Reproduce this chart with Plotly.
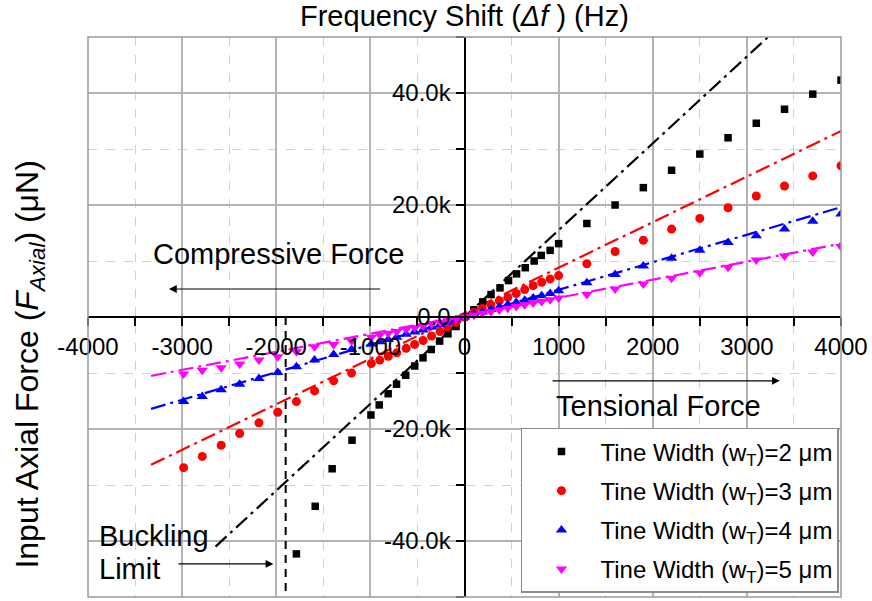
import plotly.graph_objects as go

# ---------------- data ----------------
# Tine width 2 um (black squares)
w2_x = [-1786, -1586, -1406, -1195, -994, -906, -811, -722, -624, -529, -441, -353, -264, -176, -90,
        0, 100, 194, 282, 377, 468, 553, 645, 740, 815, 910, 1000,
        1300, 1600, 1900, 2200, 2500, 2800, 3100, 3400, 3700, 4000]
w2_y = [-42300, -33800, -27100, -22000, -17500, -15700, -13700, -12000, -10400, -8750, -7300, -5800, -4300, -3000, -1700,
        0, 1300, 2700, 4000, 5200, 6500, 7700, 8800, 10000, 11000, 11900, 13100,
        16700, 20000, 23100, 26200, 29100, 32000, 34600, 37100, 39800, 42300]

# Tine width 3 um (red circles)
w3_x = [-2984, -2786, -2585, -2389, -2184, -1984, -1786, -1593, -1390, -1200,
        -990, -900, -810, -720, -620, -530, -440, -350, -260, -180, -90,
        0, 100, 190, 280, 370, 460, 550, 640, 730, 820, 910, 1000,
        1300, 1600, 1900, 2200, 2500, 2800, 3100, 3400, 3700, 4000]
w3_y = [-26900, -24900, -22900, -20800, -18900, -17000, -15100, -13200, -11400, -10000,
        -8300, -7700, -7000, -6400, -5600, -4900, -4200, -3400, -2600, -1800, -1000,
        0, 800, 1500, 2200, 2900, 3500, 4200, 4900, 5600, 6200, 6800, 7400,
        9500, 11700, 13700, 15700, 17600, 19500, 21600, 23400, 25200, 27000]

# Tine width 4 um (blue up-triangles)
w4_x = w3_x
w4_y = [-15100, -14200, -13000, -12000, -11000, -9900, -8900, -7700, -6700, -5800,
        -4800, -4400, -4000, -3600, -3100, -2700, -2300, -1800, -1400, -950, -500,
        0, 470, 900, 1350, 1800, 2200, 2600, 3000, 3400, 3800, 4200, 4700,
        6100, 7600, 9100, 10500, 11900, 13300, 14500, 15700, 17100, 18400]

# Tine width 5 um (magenta down-triangles)
w5_x = w3_x
w5_y = [-10200, -9500, -9050, -8400, -7700, -7100, -6200, -5300, -4900, -4300,
        -3600, -3200, -2900, -2600, -2200, -1900, -1600, -1250, -950, -650, -350,
        0, 340, 650, 950, 1250, 1560, 1870, 2180, 2480, 2790, 3100, 3400,
        4000, 5000, 5900, 6900, 7900, 8900, 10200, 10900, 11600, 12600]

# fitted (dash-dot) lines: end points
fit2_x = [-2645, 3225]
fit2_y = [-41000, 50000]
fit3_x = [-3330, 4000]
fit3_y = [-26400, 33200]
fit4_x = [-3330, 4000]
fit4_y = [-16400, 19600]
fit5_x = [-3330, 4000]
fit5_y = [-10500, 13100]

buckling_x = [-1900, -1900]
buckling_y = [0, -50000]

x_ticks = [-4000, -3000, -2000, -1000, 0, 1000, 2000, 3000, 4000]
x_ticktext = ["-4000", "-3000", "-2000", "-1000", "0", "1000", "2000", "3000", "4000"]
y_ticks = [-40000, -20000, 0, 20000, 40000]
y_ticktext = ["-40.0k", "-20.0k", "0.0", "20.0k", "40.0k"]

names = ["Tine Width (w<sub>T</sub>)=2 μm", "Tine Width (w<sub>T</sub>)=3 μm",
         "Tine Width (w<sub>T</sub>)=4 μm", "Tine Width (w<sub>T</sub>)=5 μm"]

# ---------------- figure ----------------
FONT = "Liberation Sans, Arial, sans-serif"
DASHDOT = "15px,5px,3px,5px"

fig = go.Figure()

fits = [(fit2_x, fit2_y, "#000000"), (fit3_x, fit3_y, "#ff0000"),
        (fit4_x, fit4_y, "#0000ff"), (fit5_x, fit5_y, "#ff00ff")]
for fx, fy, c in fits:
    fig.add_trace(go.Scatter(x=fx, y=fy, mode="lines", showlegend=False, hoverinfo="skip",
                             line=dict(color=c, width=2.2, dash=DASHDOT)))

fig.add_trace(go.Scatter(x=buckling_x, y=buckling_y, mode="lines", showlegend=False, hoverinfo="skip",
                         line=dict(color="#000000", width=2, dash="8px,6px")))

series = [(w2_x, w2_y, "#000000", "square", 7.5),
          (w3_x, w3_y, "#ff0000", "circle", 9),
          (w4_x, w4_y, "#0000ff", "triangle-up", 10),
          (w5_x, w5_y, "#ff00ff", "triangle-down", 10)]
for i, (sx, sy, c, sym, sz) in enumerate(series):
    fig.add_trace(go.Scatter(x=sx, y=sy, mode="markers", name=names[i], legendgroup=f"g{i}",
                             marker=dict(color=c, symbol=sym, size=sz, line=dict(width=0))))

grid_major = "#b4b4b4"
grid_minor = "#d2d2d2"

fig.update_layout(
    width=872, height=601,
    margin=dict(l=88, r=27, t=37, b=4),
    paper_bgcolor="white", plot_bgcolor="white",
    font=dict(family=FONT, color="black"),
    xaxis=dict(range=[-4000, 4000], anchor="free", position=0.5,
               tickvals=x_ticks, ticktext=x_ticktext,
               showline=True, linecolor="black", linewidth=2,
               ticks="outside", ticklen=8, tickwidth=2, tickcolor="black",
               showgrid=True, gridcolor=grid_major, gridwidth=1.5, zeroline=False,
               tickfont=dict(size=24, family=FONT, color="black"),
               minor=dict(dtick=500, tick0=0, ticks="outside", ticklen=8, tickwidth=2, tickcolor="black",
                          showgrid=True, gridcolor=grid_minor, griddash="dash", gridwidth=1)),
    yaxis=dict(range=[-50000, 50000], anchor="free", position=0.5,
               tickvals=y_ticks, ticktext=y_ticktext,
               showline=True, linecolor="black", linewidth=2,
               ticks="outside", ticklen=8, tickwidth=2, tickcolor="black",
               showgrid=True, gridcolor=grid_major, gridwidth=1.5, zeroline=False,
               tickfont=dict(size=24, family=FONT, color="black"),
               minor=dict(dtick=10000, tick0=0, ticks="outside", ticklen=8, tickwidth=2, tickcolor="black",
                          showgrid=True, gridcolor=grid_minor, griddash="dash", gridwidth=1)),
    legend=dict(x=0.575, y=0.302, xanchor="left", yanchor="top",
                bgcolor="white", bordercolor="#8c8c8c", borderwidth=1.5,
                font=dict(size=24, family=FONT, color="black"),
                itemwidth=68, tracegroupgap=5),
    shapes=[dict(type="rect", xref="paper", yref="paper", x0=0, y0=0, x1=1, y1=1,
                 line=dict(color="#9a9a9a", width=1.5), layer="above")],
)

ann = [
    dict(text="Frequency Shift (<i>Δf</i> ) (Hz)", xref="paper", yref="paper", x=0.5, y=1,
         xanchor="center", yanchor="bottom", yshift=3, showarrow=False, font=dict(size=29)),
    dict(text="Input Axial Force (<i>F</i><sub><i>Axial</i></sub>) (μN)", xref="paper", yref="paper",
         x=0, y=0.415, xshift=-58, textangle=-90, xanchor="center", yanchor="middle",
         showarrow=False, font=dict(size=32)),
    dict(text="Compressive Force", x=-1977, y=11250, showarrow=False, font=dict(size=29)),
    dict(text="Tensional Force", x=2060, y=-15900, showarrow=False, font=dict(size=29)),
    dict(text="Buckling", x=-3900, y=-39100, xanchor="left", showarrow=False, font=dict(size=29)),
    dict(text="Limit", x=-3900, y=-45000, xanchor="left", showarrow=False, font=dict(size=29)),
    dict(x=-3140, y=5000, ax=-880, ay=5000, xref="x", yref="y", axref="x", ayref="y", text="",
         showarrow=True, arrowhead=2, arrowsize=1.3, arrowwidth=1.2, arrowcolor="black"),
    dict(x=3350, y=-11400, ax=920, ay=-11400, xref="x", yref="y", axref="x", ayref="y", text="",
         showarrow=True, arrowhead=2, arrowsize=1.3, arrowwidth=1.2, arrowcolor="black"),
    dict(x=-2030, y=-44100, ax=-3055, ay=-44100, xref="x", yref="y", axref="x", ayref="y", text="",
         showarrow=True, arrowhead=2, arrowsize=1.3, arrowwidth=1.2, arrowcolor="black"),
]
fig.update_layout(annotations=ann)

fig.write_html("out.html")
